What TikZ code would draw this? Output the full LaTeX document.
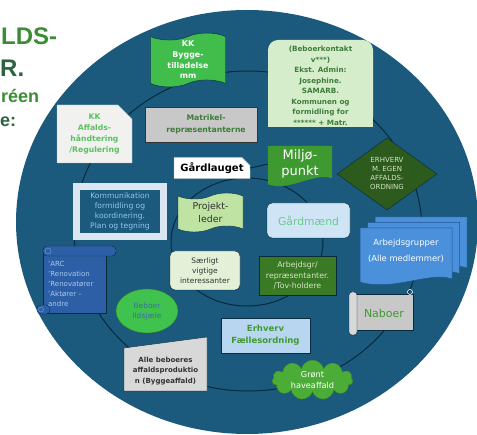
\documentclass[tikz,border=0pt]{standalone}
\usepackage{fontspec}
\setmainfont{DejaVu Sans}
\newfontfamily\titlefont{Liberation Sans}
\usetikzlibrary{shapes.geometric,shapes.symbols,shapes.misc,calc}
\newcommand\setfs[2]{\fontsize{#1}{#2}\selectfont}
\definecolor{sea}{HTML}{1B5A7C}
\definecolor{ringline}{HTML}{082A3D}
\definecolor{titlegreen}{HTML}{3C8C35}
\definecolor{titledark}{HTML}{2B6340}
\definecolor{brightgreen}{HTML}{41BD4C}
\definecolor{palegreen}{HTML}{D6EDCB}
\definecolor{textgreen}{HTML}{3E7D3A}
\definecolor{mintgreen}{HTML}{5DC162}
\definecolor{offwhite}{HTML}{F1F1EF}
\definecolor{midgray}{HTML}{C8C8C8}
\definecolor{lightgray}{HTML}{D8D8D8}
\definecolor{leafgreen}{HTML}{3E9A30}
\definecolor{darkleaf}{HTML}{2D5A1D}
\definecolor{diamondtext}{HTML}{D3E6C4}
\definecolor{frameblue}{HTML}{DCE6F1}
\definecolor{skytext}{HTML}{93C6EA}
\definecolor{lightlime}{HTML}{BFE3A2}
\definecolor{iceblue}{HTML}{CFE5F5}
\definecolor{jade}{HTML}{6CCB8B}
\definecolor{docblue}{HTML}{4A90DA}
\definecolor{docedge}{HTML}{21528F}
\definecolor{scrollblue}{HTML}{2D5FA6}
\definecolor{scrolltext}{HTML}{A9C9EE}
\definecolor{sagewhite}{HTML}{E4F1D8}
\definecolor{grassgreen}{HTML}{3B7A24}
\definecolor{ellipsegreen}{HTML}{40C24E}
\definecolor{ellipsetext}{HTML}{3A6EA6}
\definecolor{noteblue}{HTML}{B9D6F1}
\definecolor{cloudgreen}{HTML}{4BAD37}
\definecolor{inkgray}{HTML}{333333}
\pgfdeclarelayer{bottom}
\pgfdeclarelayer{background}
\pgfsetlayers{bottom,background,main}
\begin{document}
\begin{tikzpicture}[
  x=1pt, y=-1pt,
  every node/.style={align=center, inner sep=1pt},
  title/.style={anchor=base west, inner sep=0pt, font=\titlefont\setfs{24}{24}\bfseries},
  subtitle/.style={anchor=base west, inner sep=0pt, font=\titlefont\setfs{18}{18}\bfseries},
  ring/.style={draw=ringline, line width=1pt},
  shapebox/.style={draw=ringline, line width=0.4pt},
  scrollpart/.style={draw=ringline, line width=0.4pt}
]
\useasboundingbox (0,0) rectangle (477,435);
\begin{pgfonlayer}{bottom}
  \fill[sea] (247,222) ellipse [x radius=231pt, y radius=212pt];
  \draw[ring] (248,231) ellipse [x radius=174pt, y radius=160pt];
  \draw[ring] (247,242) ellipse [x radius=76pt, y radius=64pt];
\end{pgfonlayer}

% title
\node[title, text=titlegreen] (t1) at (1,45) {LDS-};
\node[title, text=titledark] (t2) at (0,77) {R.};
\node[subtitle, text=titlegreen] (t3) at (1,103) {réen};
\node[subtitle, text=titledark] (t4) at (0,127) {e:};

% outer ring
\node[tape, tape bend height=7pt, fill=brightgreen, shapebox, minimum width=75pt, minimum height=48pt,
  text=white, font=\setfs{7.9}{10.7}\bfseries] (bygge) at (188,60) {KK\\Bygge-\\tilladelse\\mm};
\begin{scope}
  \clip (268,40) rectangle (373,126);
  \node[text=textgreen, minimum width=105pt, minimum height=87pt, font=\setfs{7.2}{10.5}\bfseries]
    (kontakt) at (320.5,86)
    {(Beboerkontakt\\v***)\\Ekst. Admin:\\Josephine.\\SAMARB.\\Kommunen og\\formidling for\\****** + Matr.};
\end{scope}
\node[chamfered rectangle, chamfered rectangle corners=north east, chamfered rectangle xsep=7pt,
  chamfered rectangle ysep=7pt, fill=offwhite, draw=gray!60, minimum width=75pt, minimum height=58pt,
  font=\setfs{7.7}{11}\bfseries, text=mintgreen] (affald) at (94.5,134) {KK\\Affalds-\\håndtering\\/Regulering};
\node[fill=midgray, draw=gray!40!black, minimum width=112pt, minimum height=35pt,
  font=\setfs{7.7}{12}\bfseries, text=textgreen] (matr) at (201,124.5)
  {\hspace*{10pt}Matrikel-\\\hspace*{10pt}repræsentanterne};
\node[diamond, fill=darkleaf, draw=ringline, minimum width=100pt, minimum height=72pt, inner sep=0pt,
  text=diamondtext, font=\setfs{7}{9}] (egen) at (387,174) {ERHVERV\\M. EGEN\\AFFALDS-\\ORDNING};
\node[fill=sea, draw=frameblue, line width=7pt, minimum width=87pt, minimum height=50pt,
  font=\setfs{7.6}{10}, text=skytext] (komm) at (120,211.5)
  {Kommunikation\\formidling og\\koordinering.\\Plan og tegning};
\node[minimum width=92pt, minimum height=50pt, text=white, font=\setfs{8.4}{16}] (arb) at (406,251)
  {Arbejdsgrupper\\(Alle medlemmer)};
\node[anchor=west, align=left, text=scrolltext, font=\setfs{7}{10.2}] (arc) at (47,284)
  {'ARC\\'Renovation\\'Renovatører\\'Aktører –\\andre};
\node[ellipse, fill=ellipsegreen, draw=grassgreen, minimum width=62pt, minimum height=44pt,
  text=ellipsetext, font=\setfs{7.5}{10}] (ildsjael) at (147,311) {Beboer\\Ildsjæle};
\node[minimum width=58pt, minimum height=34pt, font=\setfs{11}{13}, text=leafgreen] (nabo) at (384,313) {Naboer};
\node[fill=noteblue, shapebox, minimum width=89pt, minimum height=35pt, font=\setfs{8.5}{12}\bfseries,
  text=leafgreen] (faelles) at (265.5,335.5) {Erhverv\\Fællesordning};
\node[minimum width=83pt, minimum height=44pt, font=\setfs{7}{10.5}\bfseries, text=inkgray] (alle)
  at (165.5,371) {Alle beboeres\\affaldsproduktio\\n (Byggeaffald)};
\node[cloud, cloud puffs=11, cloud ignores aspect, fill=cloudgreen, draw=grassgreen, minimum width=81pt,
  minimum height=38pt, text=white, font=\setfs{8.2}{11}] (grass) at (312.5,380) {Grønt\\haveaffald};

% inner ring
\node[chamfered rectangle, chamfered rectangle corners=north east, chamfered rectangle xsep=4pt,
  chamfered rectangle ysep=4pt, fill=white, draw=gray!60, minimum width=76pt, minimum height=20pt,
  font=\setfs{10}{12}\bfseries] (gaard) at (212,168) {Gårdlauget};
\node[minimum width=64pt, minimum height=36pt, text=white, font=\setfs{13}{16}] (milj)
  at (300,164) {Miljø-\\punkt};
\node[tape, tape bend height=6pt, fill=lightlime, shapebox, minimum width=65pt, minimum height=39pt,
  text=inkgray, font=\setfs{9.4}{13}] (projekt) at (210.5,212.5) {Projekt-\\leder};
\node[fill=iceblue, shapebox, rounded corners=5pt, minimum width=83pt, minimum height=35pt,
  font=\setfs{10.8}{13}, text=jade] (maend) at (308.5,220.5) {Gårdmænd};
\node[fill=sagewhite, shapebox, rounded corners=5pt, minimum width=70pt, minimum height=39pt,
  font=\setfs{7.5}{10}, text=inkgray] (saerligt) at (205,270.5) {Særligt\\vigtige\\interessanter};
\node[fill=grassgreen, shapebox, minimum width=77pt, minimum height=39pt, font=\setfs{7.8}{10.5},
  text=diamondtext] (tov) at (297.5,275.5) {Arbejdsgr/\\repræsentanter.\\/Tov-holdere};

\draw[ring] (gaard.east) -- (milj.west);

\begin{pgfonlayer}{background}
  % box with rounded top
  \fill[palegreen, rounded corners=10pt] (268,127) rectangle (373,40);
  \fill[palegreen] (268,127) rectangle (373,80);
  % tab lines
  \draw[gray!40!black] ($(matr.north west)+(13,0)$) -- ($(matr.south west)+(13,0)$);
  \draw[gray!40!black] ($(matr.north west)+(0,5)$) -- ($(matr.north east)+(0,5)$);
  % wavy bottom
  \fill[leafgreen] (milj.north west) -- (milj.north east) -- ($(milj.south east)+(0,-4)$)
    .. controls ($(milj.south east)+(-20,-10)$) and ($(milj.south west)+(22,10)$) .. ($(milj.south west)+(0,2)$) -- cycle;
  % stacked pages
  \foreach \k in {2,1,0}
    \filldraw[fill=docblue, draw=docedge, line width=0.5pt, shift={({7.5*\k},{-5.5*\k})}]
      (360,228) -- (452,228) -- (452,279) .. controls (430,271) and (392,292) .. (360,282) -- cycle;
  % blue scroll
  \filldraw[scrollpart, fill=scrollblue] (43,252) rectangle (106,313);
  \filldraw[scrollpart, fill=scrollblue, rounded corners=4pt] (43,246) rectangle (116,256);
  \draw[scrolltext!60!scrollblue, line width=0.4pt] (48,251) circle (3pt);
  \filldraw[scrollpart, fill=scrollblue, rounded corners=4pt] (37,305) rectangle (50,314);
  \draw[scrolltext!60!scrollblue, line width=0.4pt] (41,309.5) circle (2.5pt);
  % gray scroll
  \filldraw[scrollpart, fill=midgray] (355,294) rectangle (413,330);
  \filldraw[scrollpart, fill=lightgray, rounded corners=3pt] (349,292) rectangle (357,335);
  \draw[white, line width=0.6pt] (410,292) circle (2.5pt);
  % folded corner
  \fill[sea] ($(faelles.south east)+(-7,0)$) -- (faelles.south east) -- ($(faelles.south east)+(0,-7)$) -- cycle;
  \fill[noteblue!70!gray] ($(faelles.south east)+(-7,0)$) -- ($(faelles.south east)+(0,-7)$)
    -- ($(faelles.south east)+(-6,-6)$) -- cycle;
  % slanted top
  \filldraw[fill=lightgray, draw=ringline, line width=0.4pt] (124,348) -- (207,337) -- (207,391) -- (124,391) -- cycle;
\end{pgfonlayer}
\end{tikzpicture}
\end{document}
